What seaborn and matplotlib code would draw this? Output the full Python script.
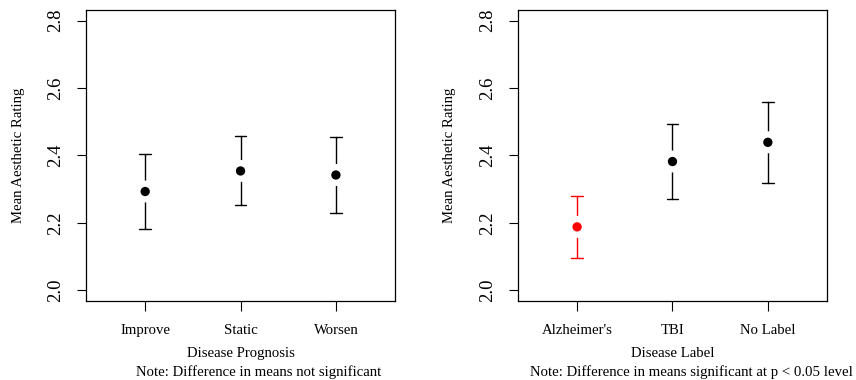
import numpy as np
import pandas as pd
import seaborn as sns
import matplotlib.pyplot as plt

# datos: media e intervalo (inferior, superior)
prognosis = ["Improve", "Static", "Worsen"]
prog_mean = [2.293, 2.354, 2.342]
prog_low = [2.181, 2.252, 2.230]
prog_high = [2.405, 2.457, 2.456]

labels = ["Alzheimer's", "TBI", "No Label"]
label_mean = [2.188, 2.382, 2.439]
label_low = [2.096, 2.270, 2.319]
label_high = [2.279, 2.494, 2.558]
label_colors = ["red", "black", "black"]

y_ticks = [2.0, 2.2, 2.4, 2.6, 2.8]


def tabla_ic(cats, low, mean, high):
    # tres filas por categoria: la mediana es la media y min/max son los extremos
    filas = []
    for c, lo, m, hi in zip(cats, low, mean, high):
        for v in (lo, m, hi):
            filas.append({"cat": c, "valor": v})
    return pd.DataFrame(filas)


def panel(ax, cats, low, mean, high, colores, xlabel, nota):
    df = tabla_ic(cats, low, mean, high)
    sns.pointplot(data=df, x="cat", y="valor", hue="cat", order=cats,
                  hue_order=cats, palette=colores, estimator="median",
                  errorbar=lambda x: (x.min(), x.max()), linestyle="none",
                  capsize=0.12, err_kws={"linewidth": 1.0}, markersize=0,
                  legend=False, ax=ax)
    # hueco blanco alrededor del punto (estilo plotCI)
    medias = pd.DataFrame({"cat": cats, "valor": mean})
    sns.scatterplot(data=medias, x="cat", y="valor", s=250, color="white",
                    edgecolor="none", zorder=5, ax=ax)
    sns.scatterplot(data=medias, x="cat", y="valor", hue="cat", palette=colores,
                    s=45, edgecolor="none", zorder=6, legend=False, ax=ax)

    ax.set_xlim(-0.62, 2.62)
    ax.set_ylim(1.968, 2.832)
    ax.set_yticks(y_ticks)
    ax.set_yticklabels([f"{t:.1f}" for t in y_ticks], fontsize=13.5,
                       rotation=90, va="center")
    ax.set_xticks(range(len(cats)))
    ax.set_xticklabels(cats, fontsize=10.6)
    ax.tick_params(axis="both", colors="black", left=True, bottom=True)
    ax.tick_params(axis="y", length=6.5, width=0.8, pad=9)
    ax.tick_params(axis="x", length=7.5, width=0.8, pad=9)
    ax.set_xlabel(xlabel, fontsize=10.6, va="center", color="black")
    ax.set_ylabel("Mean Aesthetic Rating", fontsize=10.6, va="center",
                  color="black")
    ax.xaxis.set_label_coords(0.5, -0.182)
    ax.yaxis.set_label_coords(-0.22, 0.5)
    ax.text(0.56, -0.245, nota, transform=ax.transAxes, ha="center",
            va="center", fontsize=10.6, color="black")
    for s in ax.spines.values():
        s.set_visible(True)
        s.set_color("black")
        s.set_linewidth(0.9)


sns.set_theme(style="white")
plt.rcParams["font.family"] = ["Liberation Serif", "DejaVu Serif"]

fig = plt.figure(figsize=(8.56, 3.8), dpi=100)
ax1 = fig.add_axes([0.1005, 0.2079, 0.361, 0.766])
ax2 = fig.add_axes([0.6051, 0.2079, 0.361, 0.766])

panel(ax1, prognosis, prog_low, prog_mean, prog_high, ["black"] * 3,
      "Disease Prognosis", "Note: Difference in means not significant")
panel(ax2, labels, label_low, label_mean, label_high, label_colors,
      "Disease Label", "Note: Difference in means significant at p < 0.05 level")

fig.savefig("out.png", dpi=100)
